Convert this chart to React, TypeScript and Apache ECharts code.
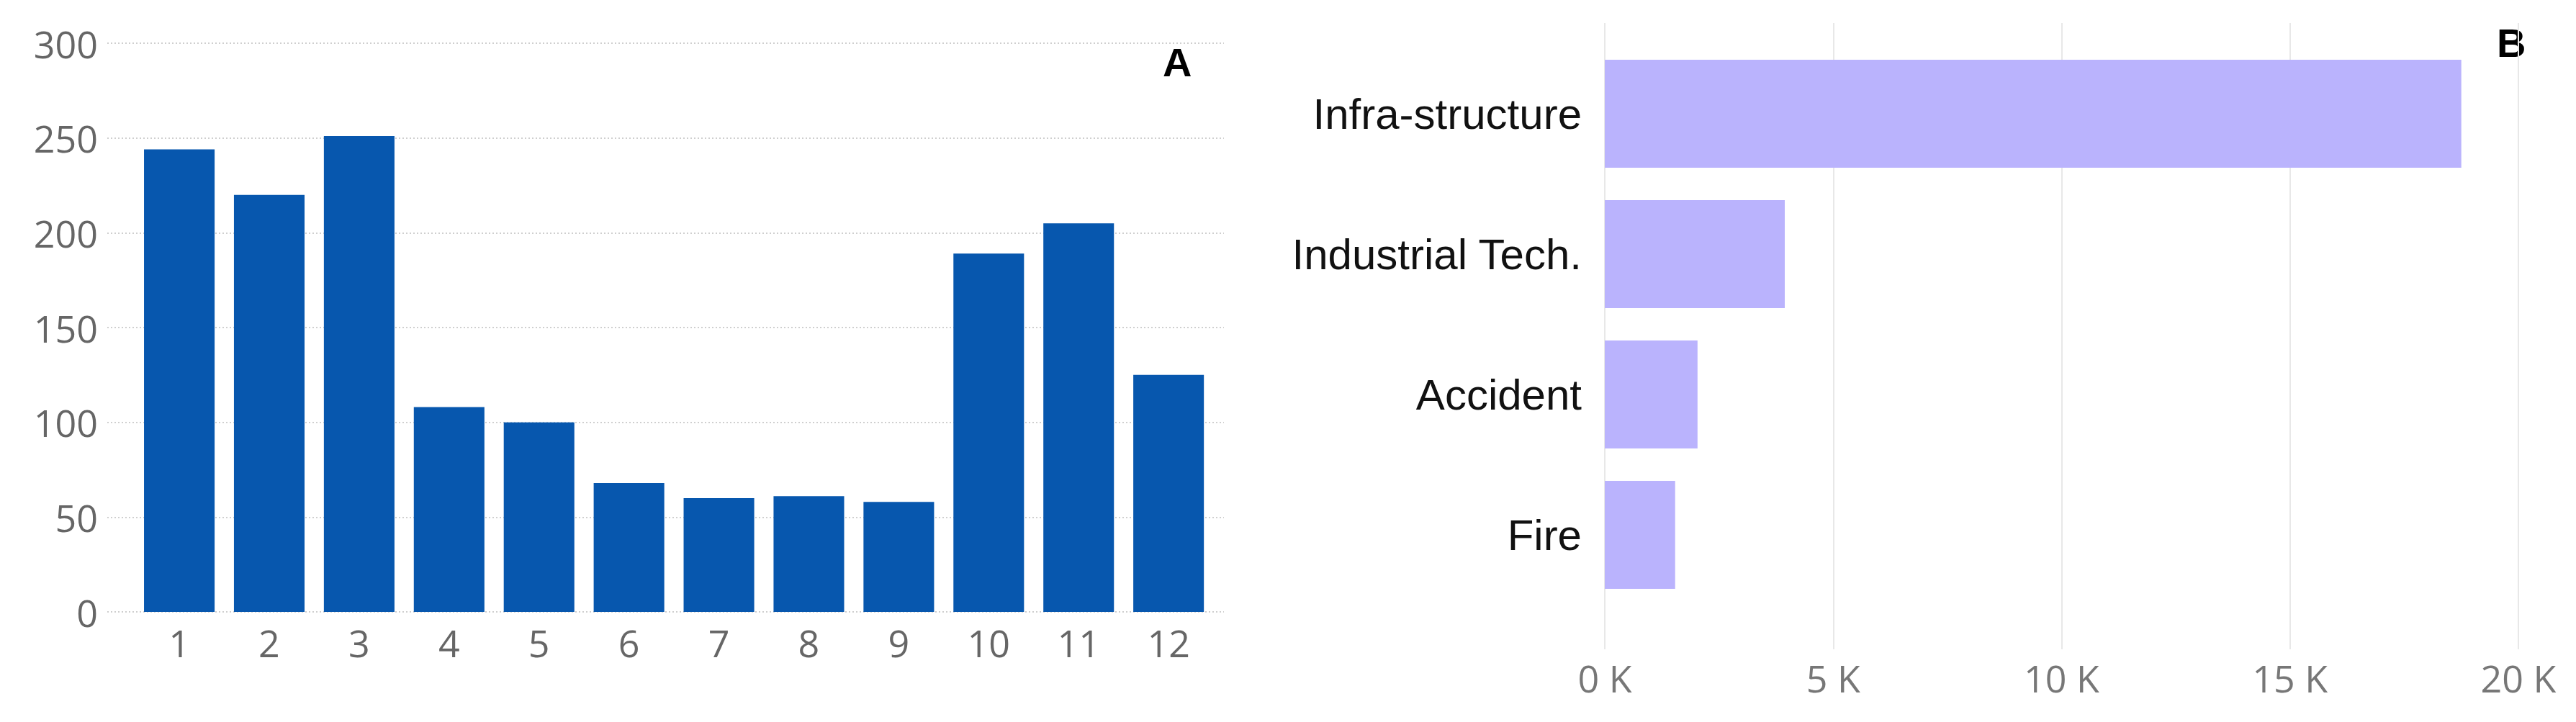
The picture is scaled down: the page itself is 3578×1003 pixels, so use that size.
import React, { useEffect, useRef } from "react";
import * as echarts from "echarts";

const monthLabels = ["1", "2", "3", "4", "5", "6", "7", "8", "9", "10", "11", "12"];
const monthValues = [244, 220, 251, 108, 100, 68, 60, 61, 58, 189, 205, 125];

const causeLabels = ["Infra-structure", "Industrial Tech.", "Accident", "Fire"];
const causeValues = [18750, 3940, 2030, 1540];

const yMaxA = 300;
const yStepA = 50;
const xMaxB = 20000;
const xStepB = 5000;

const panelTitles = ["A", "B"];

export default function App() {
  const ref = useRef<HTMLDivElement>(null);

  useEffect(() => {
    if (!ref.current) return;
    const chart = echarts.init(ref.current, undefined, { renderer: "svg" });
    const numFont = "'Open Sans', 'Noto Sans', sans-serif";
    const catFont = "'Liberation Sans', Arial, sans-serif";

    chart.setOption({
      animation: false,
      backgroundColor: "#ffffff",
      grid: [
        { left: 186.6, top: 60, width: 1499, height: 790 },
        { left: 149, top: 60, width: 1551, height: 790 },
        { left: 2229, top: 60.5, width: 1269, height: 780 },
        { left: 2229, top: 32, width: 1269, height: 870 },
      ],
      xAxis: [
        {
          gridIndex: 0,
          type: "category",
          data: monthLabels,
          axisLine: { show: false },
          axisTick: { show: false },
          axisLabel: { fontSize: 52, color: "#666666", margin: 16, fontFamily: numFont },
        },
        { gridIndex: 1, type: "value", show: false, min: 0, max: 1 },
        { gridIndex: 2, type: "value", show: false, min: 0, max: xMaxB },
        {
          gridIndex: 3,
          type: "value",
          min: 0,
          max: xMaxB,
          interval: xStepB,
          axisLine: { show: false },
          axisTick: { show: false },
          axisLabel: {
            fontSize: 52,
            color: "#777777",
            margin: 13,
            fontFamily: numFont,
            formatter: (v: number) => `${v / 1000} K`,
          },
          splitLine: { show: true, lineStyle: { color: "#e8e8e8", width: 2 } },
        },
      ],
      yAxis: [
        { gridIndex: 0, type: "value", show: false, min: 0, max: yMaxA },
        {
          gridIndex: 1,
          type: "value",
          min: 0,
          max: yMaxA,
          interval: yStepA,
          axisLine: { show: false },
          axisTick: { show: false },
          axisLabel: { fontSize: 52, color: "#666666", margin: 13, fontFamily: numFont },
          splitLine: { show: true, lineStyle: { color: "#cfcfcf", width: 2, type: [2, 3] } },
        },
        {
          gridIndex: 2,
          type: "category",
          inverse: true,
          data: causeLabels,
          axisLine: { show: false },
          axisTick: { show: false },
          axisLabel: { fontSize: 60, color: "#111111", margin: 32, fontFamily: catFont },
        },
        { gridIndex: 3, type: "value", show: false, min: 0, max: 1 },
      ],
      series: [
        {
          type: "bar",
          xAxisIndex: 0,
          yAxisIndex: 0,
          data: monthValues,
          barCategoryGap: "21.5%",
          itemStyle: { color: "#0757ae" },
        },
        {
          type: "bar",
          xAxisIndex: 2,
          yAxisIndex: 2,
          data: causeValues,
          barCategoryGap: "23%",
          itemStyle: { color: "#bab3fd" },
        },
      ],
      graphic: [
        {
          type: "text",
          left: 1615,
          top: 58,
          style: {
            text: panelTitles[0],
            fontSize: 56,
            fontWeight: "bold",
            fill: "#000000",
            fontFamily: catFont,
          },
        },
        {
          type: "text",
          left: 3468,
          top: 31,
          style: {
            text: panelTitles[1],
            fontSize: 56,
            fontWeight: "bold",
            fill: "#000000",
            fontFamily: catFont,
          },
        },
      ],
    });

    return () => chart.dispose();
  }, []);

  return (
    <div
      ref={ref}
      style={{ position: "absolute", left: 0, top: 0, width: 3578, height: 1003 }}
    />
  );
}
